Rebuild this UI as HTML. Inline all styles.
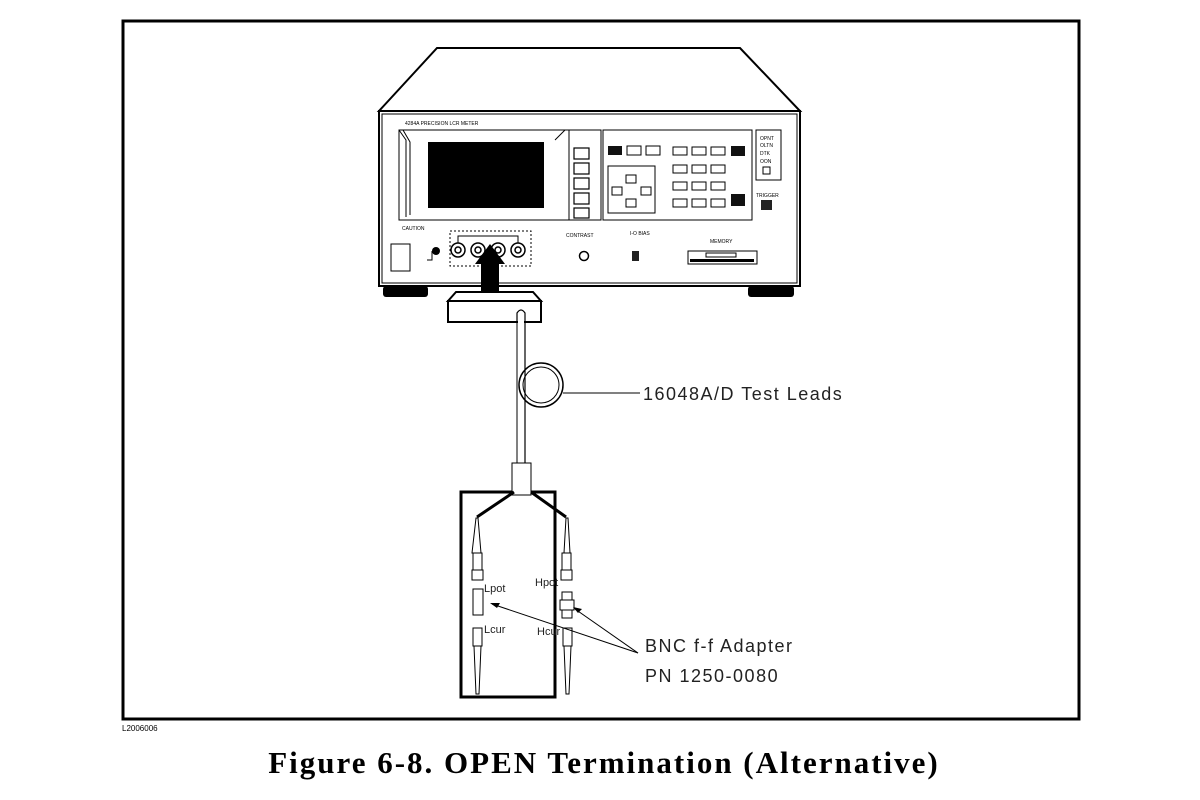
<!DOCTYPE html>
<html><head><meta charset="utf-8"><style>
html,body{margin:0;padding:0;background:#fff;width:1200px;height:800px;overflow:hidden}
svg{display:block}
</style></head><body>
<svg width="1200" height="800" viewBox="0 0 1200 800" xmlns="http://www.w3.org/2000/svg" font-family="Liberation Sans, sans-serif">
<rect x="123" y="21" width="956" height="698" fill="none" stroke="#000" stroke-width="3"/>
<text x="122" y="731" font-size="8" fill="#000">L2006006</text>
<text x="604" y="773" font-size="31" font-weight="bold" font-family="Liberation Serif, serif" text-anchor="middle" letter-spacing="2">Figure 6-8. OPEN Termination (Alternative)</text>

<!-- instrument -->
<g stroke="#000" fill="none" stroke-width="2">
<polygon points="437,48 740,48 800,111 379,111" fill="#fff"/>
<rect x="379" y="111" width="421" height="175" fill="#fff"/>
<rect x="382" y="114" width="415" height="169" stroke-width="1"/>
<rect x="399" y="130" width="170" height="90" stroke-width="1"/>
<rect x="569" y="130" width="32" height="90" stroke-width="1"/>
<polyline points="399,130 406,140 406,217" stroke-width="1"/>
<polyline points="403,130 410,142 410,215" stroke-width="1"/>
<polyline points="565,130 555,140" stroke-width="1"/>
</g>
<rect x="428" y="142" width="116" height="66" fill="#000"/>
<rect x="383" y="286" width="45" height="11" fill="#000" rx="3"/>
<rect x="748" y="286" width="46" height="11" fill="#000" rx="3"/>
<g fill="#fff" stroke="#000" stroke-width="1.2">
<rect x="574" y="148" width="15" height="11"/><rect x="574" y="163" width="15" height="11"/>
<rect x="574" y="178" width="15" height="11"/><rect x="574" y="193" width="15" height="11"/>
<rect x="574" y="208" width="15" height="10"/>
</g>
<rect x="603" y="130" width="149" height="90" fill="none" stroke="#000" stroke-width="1"/>
<rect x="756" y="130" width="25" height="50" fill="none" stroke="#000" stroke-width="1"/>
<g font-size="5" fill="#000">
<text x="405" y="125">4284A PRECISION LCR METER</text>
<text x="760" y="140">OPNT</text><text x="760" y="147">OLTN</text><text x="760" y="155">DTK</text><text x="760" y="163">OON</text>
<text x="756" y="197">TRIGGER</text><text x="402" y="230">CAUTION</text>
<text x="566" y="237">CONTRAST</text><text x="630" y="235">I-O BIAS</text><text x="710" y="243">MEMORY</text>
</g>
<rect x="763" y="167" width="7" height="7" fill="none" stroke="#000"/>
<rect x="761" y="200" width="11" height="10" fill="#222"/>
<!-- keypad -->
<rect x="608" y="146" width="14" height="9" fill="#111"/>
<rect x="627" y="146" width="14" height="9" fill="#fff" stroke="#000"/>
<rect x="646" y="146" width="14" height="9" fill="#fff" stroke="#000"/>
<rect x="731" y="146" width="14" height="10" fill="#111"/>
<rect x="731" y="194" width="14" height="12" fill="#111"/>
<g fill="#fff" stroke="#000" font-size="7" text-anchor="middle">
<rect x="673" y="147" width="14" height="8"/><rect x="692" y="147" width="14" height="8"/><rect x="711" y="147" width="14" height="8"/>
<rect x="673" y="165" width="14" height="8"/><rect x="692" y="165" width="14" height="8"/><rect x="711" y="165" width="14" height="8"/>
<rect x="673" y="182" width="14" height="8"/><rect x="692" y="182" width="14" height="8"/><rect x="711" y="182" width="14" height="8"/>
<rect x="673" y="199" width="14" height="8"/><rect x="692" y="199" width="14" height="8"/><rect x="711" y="199" width="14" height="8"/>
<rect x="608" y="166" width="47" height="47"/>
<rect x="626" y="175" width="10" height="8"/><rect x="612" y="187" width="10" height="8"/><rect x="641" y="187" width="10" height="8"/><rect x="626" y="199" width="10" height="8"/>
</g>
<!-- lower panel -->
<rect x="391" y="244" width="19" height="27" fill="#fff" stroke="#000"/>
<circle cx="436" cy="251" r="4" fill="#000"/>
<path d="M432,251 v9 h-5" stroke="#000" fill="none"/>
<rect x="450" y="231" width="81" height="35" fill="none" stroke="#000" stroke-dasharray="2,2"/>
<path d="M458,243 v-7 h60 v7" stroke="#000" fill="none"/>
<g fill="#fff" stroke="#000" stroke-width="1.5">
<circle cx="458" cy="250" r="7"/><circle cx="478" cy="250" r="7"/><circle cx="498" cy="250" r="7"/><circle cx="518" cy="250" r="7"/>
<circle cx="458" cy="250" r="3"/><circle cx="478" cy="250" r="3"/><circle cx="498" cy="250" r="3"/><circle cx="518" cy="250" r="3"/>
<circle cx="584" cy="256" r="4.5"/>
</g>
<rect x="632" y="251" width="7" height="10" fill="#222"/>
<rect x="688" y="251" width="69" height="13" fill="#fff" stroke="#000"/>
<rect x="690" y="259" width="64" height="3" fill="#000"/>
<rect x="706" y="253" width="30" height="4" fill="none" stroke="#000"/>
<polygon points="475,264 490,244 505,264 499,264 499,291 481,291 481,264" fill="#000"/>
<!-- adapter box -->
<path d="M448,301 L456,292 L533,292 L541,301 Z" fill="#fff" stroke="#000" stroke-width="2"/>
<rect x="448" y="301" width="93" height="21" fill="#fff" stroke="#000" stroke-width="2"/>
<!-- cable -->
<path d="M517,322 V313 Q521,307 525,313 V463" fill="none" stroke="#000" stroke-width="1.2"/>
<rect x="518" y="318" width="6" height="145" fill="#fff"/>
<line x1="517" y1="318" x2="517" y2="463" stroke="#000"/>
<line x1="525" y1="318" x2="525" y2="463" stroke="#000"/>
<circle cx="541" cy="385" r="22" fill="none" stroke="#000" stroke-width="1.5"/>
<circle cx="541" cy="385" r="18" fill="none" stroke="#000" stroke-width="1"/>
<line x1="563" y1="393" x2="640" y2="393" stroke="#000"/>
<text x="643" y="400" font-size="18" fill="#222" letter-spacing="1.5">16048A/D Test Leads</text>
<!-- fixture -->
<rect x="461" y="492" width="94" height="205" fill="none" stroke="#000" stroke-width="3"/>
<rect x="512" y="463" width="19" height="32" fill="#fff" stroke="#000"/>
<path d="M514,492 L477,517 M531,492 L566,517" stroke="#000" stroke-width="3"/>
<g fill="#fff" stroke="#000" stroke-width="1">
<path d="M476,518 L478,518 L481,553 L472,553 Z"/><path d="M566,518 L568,518 L570,553 L564,553 Z"/>
<rect x="473" y="553" width="9" height="20"/><rect x="562" y="553" width="9" height="20"/>
<rect x="472" y="570" width="11" height="10"/><rect x="561" y="570" width="11" height="10"/>
<rect x="473" y="589" width="10" height="26"/><rect x="562" y="592" width="10" height="26"/>
<rect x="560" y="600" width="14" height="10"/>
<rect x="473" y="628" width="9" height="18"/><rect x="563" y="628" width="9" height="18"/>
<path d="M474,646 L481,646 L479,694 L476,694 Z"/><path d="M564,646 L571,646 L569,694 L566,694 Z"/>
</g>
<g font-size="11" fill="#222">
<text x="484" y="592">Lpot</text><text x="484" y="633">Lcur</text>
<text x="535" y="586">Hpot</text><text x="537" y="635">Hcur</text>
</g>
<g stroke="#000" fill="none">
<line x1="638" y1="653" x2="492" y2="604"/><line x1="638" y1="653" x2="575" y2="609"/>
</g>
<polygon points="490,603 500,603 497,608" fill="#000"/>
<polygon points="573,607 582,609 578,613" fill="#000"/>
<text x="645" y="652" font-size="18" fill="#222" letter-spacing="1.5">BNC f-f Adapter</text>
<text x="645" y="682" font-size="18" fill="#222" letter-spacing="1.5">PN 1250-0080</text>
</svg>
</body></html>
